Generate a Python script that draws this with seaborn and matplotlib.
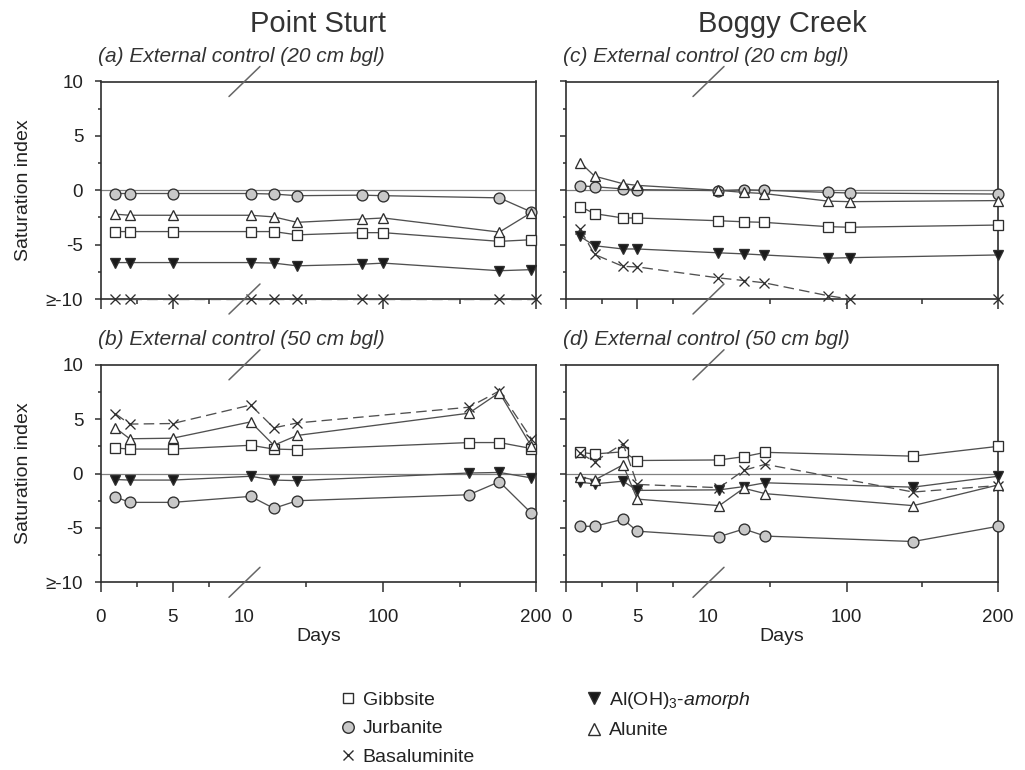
import numpy as np
import pandas as pd
import matplotlib
matplotlib.use("Agg")
import matplotlib.pyplot as plt
from matplotlib.lines import Line2D
import seaborn as sns

# ---- data: saturation index vs. days since start ----
minerals = ["Gibbsite", "Jurbanite", "Basaluminite", "Al(OH)3-amorph", "Alunite"]

# (a) Point Sturt, 20 cm bgl
days_a = [1, 2, 5, 14, 29, 44, 86, 100, 176, 197]
days_a_bas = [1, 2, 5, 14, 29, 44, 86, 100, 176, 200]
gibbsite_a = [-3.8, -3.8, -3.8, -3.8, -3.8, -4.1, -3.9, -3.9, -4.7, -4.55]
jurbanite_a = [-0.3, -0.3, -0.3, -0.3, -0.35, -0.5, -0.45, -0.5, -0.7, -2.0]
basaluminite_a = [-10, -10, -10, -10, -10, -10, -10, -10, -10, -10]
aloh3_a = [-6.65, -6.65, -6.65, -6.65, -6.7, -6.95, -6.8, -6.7, -7.4, -7.3]
alunite_a = [-2.2, -2.3, -2.3, -2.3, -2.45, -2.95, -2.65, -2.55, -3.85, -2.05]

# (b) Point Sturt, 50 cm bgl
days_b = [1, 2, 5, 14, 29, 44, 156, 176, 197]
gibbsite_b = [2.35, 2.25, 2.25, 2.6, 2.25, 2.2, 2.85, 2.85, 2.3]
jurbanite_b = [-2.15, -2.65, -2.65, -2.1, -3.2, -2.5, -1.95, -0.75, -3.65]
basaluminite_b = [5.5, 4.55, 4.6, 6.3, 4.2, 4.65, 6.1, 7.6, 3.2]
aloh3_b = [-0.55, -0.6, -0.6, -0.25, -0.6, -0.65, 0.05, 0.1, -0.4]
alunite_b = [4.2, 3.2, 3.25, 4.75, 2.6, 3.5, 5.55, 7.45, 2.5]

# (c) Boggy Creek, 20 cm bgl
days_c = [1, 2, 4, 5, 16, 33, 46, 88, 102, 200]
gibbsite_c = [-1.5, -2.15, -2.55, -2.55, -2.8, -2.9, -2.95, -3.35, -3.4, -3.2]
jurbanite_c = [0.4, 0.33, 0.12, 0.06, -0.03, 0.05, 0.0, -0.2, -0.25, -0.35]
basaluminite_c = [-3.6, -5.9, -7.0, -7.05, -8.05, -8.3, -8.5, -9.7, -10, -10]
aloh3_c = [-4.25, -5.1, -5.4, -5.4, -5.75, -5.85, -5.95, -6.25, -6.2, -5.95]
alunite_c = [2.55, 1.3, 0.6, 0.45, 0.0, -0.2, -0.3, -1.0, -1.05, -0.95]

# (d) Boggy Creek, 50 cm bgl
days_d = [1, 2, 4, 5, 17, 33, 47, 144, 200]
gibbsite_d = [1.95, 1.8, 2.0, 1.2, 1.25, 1.55, 1.95, 1.6, 2.5]
jurbanite_d = [-4.85, -4.85, -4.2, -5.3, -5.8, -5.1, -5.75, -6.25, -4.85]
basaluminite_d = [1.85, 1.1, 2.75, -1.0, -1.3, 0.3, 0.85, -1.7, -1.1]
aloh3_d = [-0.8, -0.95, -0.7, -1.55, -1.5, -1.2, -0.85, -1.25, -0.25]
alunite_d = [-0.3, -0.6, 0.8, -2.35, -2.95, -1.35, -1.85, -2.95, -1.05]

panel_titles = {
    "a": "(a) External control (20 cm bgl)",
    "b": "(b) External control (50 cm bgl)",
    "c": "(c) External control (20 cm bgl)",
    "d": "(d) External control (50 cm bgl)",
}
site_titles = ["Point Sturt", "Boggy Creek"]
x_ticks = [0, 5, 10, 100, 200]
x_minor = [2.5, 7.5, 50, 150]
y_ticks = [-10, -5, 0, 5, 10]
y_ticklabels = ["\u2265-10", "-5", "0", "5", "10"]

series = {
    "a": [(days_a, gibbsite_a), (days_a, jurbanite_a), (days_a_bas, basaluminite_a),
          (days_a, aloh3_a), (days_a, alunite_a)],
    "b": [(days_b, gibbsite_b), (days_b, jurbanite_b), (days_b, basaluminite_b),
          (days_b, aloh3_b), (days_b, alunite_b)],
    "c": [(days_c, gibbsite_c), (days_c, jurbanite_c), (days_c, basaluminite_c),
          (days_c, aloh3_c), (days_c, alunite_c)],
    "d": [(days_d, gibbsite_d), (days_d, jurbanite_d), (days_d, basaluminite_d),
          (days_d, aloh3_d), (days_d, alunite_d)],
}

rows = []
for panel, lst in series.items():
    for mineral, (dd, vv) in zip(minerals, lst):
        for d, v in zip(dd, vv):
            rows.append({"panel": panel, "mineral": mineral, "day": d, "si": v})
df = pd.DataFrame(rows)

# ---- style ----
sns.set_style("ticks")
plt.rcParams["font.family"] = ["Liberation Sans", "DejaVu Sans"]
plt.rcParams["mathtext.fontset"] = "custom"
plt.rcParams["mathtext.rm"] = "Liberation Sans"
plt.rcParams["mathtext.it"] = "Liberation Sans:italic"
plt.rcParams["axes.unicode_minus"] = False

INK = "#2e2e2e"
LINE = "#505050"
marker_style = {
    "Gibbsite": dict(marker="s", markersize=6.8, markerfacecolor="white", ls="-"),
    "Jurbanite": dict(marker="o", markersize=7.8, markerfacecolor="#c8c8c8", ls="-"),
    "Basaluminite": dict(marker="x", markersize=7.0, markerfacecolor=INK, ls=(0, (8, 4))),
    "Al(OH)3-amorph": dict(marker="v", markersize=7.8, markerfacecolor="#1a1a1a", ls="-"),
    "Alunite": dict(marker="^", markersize=7.8, markerfacecolor="white", ls="-"),
}


# broken time axis: 0-10, 10-100 and 100-200 days each get their own linear stretch
def fwd(d):
    d = np.asarray(d, dtype=float)
    return np.where(d <= 10, d * 14.3,
                    np.where(d <= 100, 143.0 + (d - 10) * 138.5 / 90.0,
                             281.5 + (d - 100) * 1.52))


def inv(p):
    p = np.asarray(p, dtype=float)
    return np.where(p <= 143.0, p / 14.3,
                    np.where(p <= 281.5, 10 + (p - 143.0) * 90.0 / 138.5,
                             100 + (p - 281.5) / 1.52))


W, H = 1025, 770
fig = plt.figure(figsize=(W / 100, H / 100), dpi=100)

col_x = [(101, 435), (566, 432)]
row_y = [(81.5, 299.0), (364.8, 582.3)]
layout = {"a": (0, 0), "b": (0, 1), "c": (1, 0), "d": (1, 1)}

axes = {}
for panel, (c, r) in layout.items():
    x0, w = col_x[c]
    top, bot = row_y[r]
    ax = fig.add_axes([x0 / W, 1 - bot / H, w / W, (bot - top) / H])
    axes[panel] = ax
    ax.set_xscale("function", functions=(fwd, inv))
    ax.set_xlim(0, 200)
    ax.set_ylim(-10, 10)
    ax.axhline(0, color="#808080", lw=0.9, zorder=1)

    sub = df[df["panel"] == panel]
    for mineral in minerals:
        m = sub[sub["mineral"] == mineral]
        st = marker_style[mineral]
        sns.lineplot(data=m, x="day", y="si", ax=ax, color=LINE, linewidth=0.95,
                     linestyle=st["ls"], marker=st["marker"], markersize=st["markersize"],
                     markerfacecolor=st["markerfacecolor"], markeredgecolor=INK,
                     markeredgewidth=0.95, clip_on=False, zorder=3, legend=False)

    for s in ax.spines.values():
        s.set_color(INK)
        s.set_linewidth(1.2)
    ax.set_xticks(x_ticks)
    ax.set_xticks(x_minor, minor=True)
    ax.set_yticks(y_ticks)
    ax.set_yticks([-7.5, -2.5, 2.5, 7.5], minor=True)
    ax.tick_params(axis="x", which="major", direction="out", length=7.5, width=1.1,
                   color=INK, labelsize=13.5, pad=11.5, labelcolor="#222222")
    ax.tick_params(axis="x", which="minor", direction="out", length=3.8, width=1.1, color=INK)
    ax.tick_params(axis="y", which="major", direction="out", length=4.3, width=1.1,
                   color=INK, labelsize=13.5, pad=8.5, labelcolor="#222222")
    ax.tick_params(axis="y", which="minor", direction="out", length=2.0, width=1.1, color=INK)
    ax.xaxis.get_major_ticks()[2].tick1line.set_visible(False)
    ax.set_xticklabels([str(t) for t in x_ticks])
    ax.set_yticklabels(y_ticklabels)
    if r == 0:
        ax.tick_params(axis="x", labelbottom=False)
        ax.set_xlabel("")
    else:
        ax.set_xlabel("Days", fontsize=14, color="#222222")
        ax.xaxis.set_label_coords(0.5, -0.21)
    if c == 1:
        ax.tick_params(axis="y", labelleft=False)
        ax.set_ylabel("")
    else:
        ax.set_ylabel("Saturation index", fontsize=14, color="#222222")
        ax.yaxis.set_label_coords(-0.158, 0.5)

    # axis-break slashes at 10 days on the top and bottom spines
    xb = float(fwd(10) / fwd(200))
    dx, dy = 15.5 / w, 15.0 / (bot - top)
    for yb in (0.0, 1.0):
        ax.plot([xb - dx, xb + dx], [yb - dy, yb + dy], transform=ax.transAxes,
                color="#666666", lw=1.1, clip_on=False, zorder=5)

    ax.text(-0.006, 1 + 20 / (bot - top), panel_titles[panel], transform=ax.transAxes,
            ha="left", va="baseline", fontsize=15, fontstyle="italic", color="#333333")

for c, name in enumerate(site_titles):
    x0, w = col_x[c]
    fig.text((x0 + w / 2) / W, 1 - 24 / H, name, ha="center", va="center",
             fontsize=21, color="#333333")

# legend
legend_labels = ["Gibbsite", "Jurbanite", "Basaluminite",
                 "Al(OH)$_3$-$\\mathit{amorph}$", "Alunite"]
handles = []
for mineral in minerals:
    st = marker_style[mineral]
    handles.append(Line2D([], [], linestyle="none", marker=st["marker"],
                          markersize=st["markersize"] + 0.5,
                          markerfacecolor=st["markerfacecolor"], markeredgecolor=INK,
                          markeredgewidth=1.0))
fig.legend(handles, legend_labels, loc="upper left", bbox_to_anchor=(340 / W, 1 - 690 / H),
           ncol=2, frameon=False, fontsize=14, handlelength=0.8, handletextpad=0.37,
           columnspacing=5.7, labelspacing=0.55, borderpad=0, borderaxespad=0,
           labelcolor="#222222")

fig.savefig("out.png", dpi=100)
